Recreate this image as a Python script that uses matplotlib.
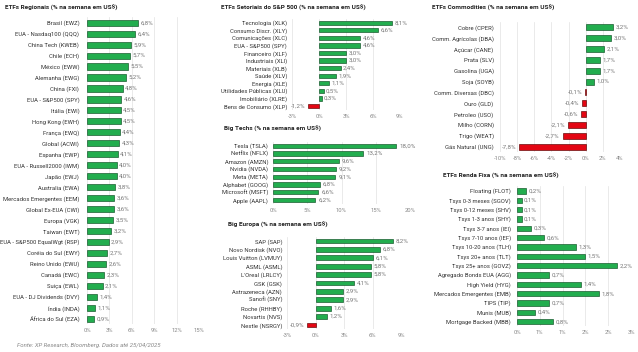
import matplotlib
matplotlib.use("Agg")
import matplotlib.pyplot as plt

plt.rcParams['font.family'] = ['Roboto', 'DejaVu Sans']

W, H = 638, 352

reg_labels = ["Brasil (EWZ)", "EUA - Nasdaq100 (QQQ)", "China Tech (KWEB)", "Chile (ECH)",
              "México (EWW)", "Alemanha (EWG)", "China (FXI)", "EUA - S&P500 (SPY)",
              "Itália (EWI)", "Hong Kong (EWH)", "França (EWQ)", "Global (ACWI)",
              "Espanha (EWP)", "EUA - Russell2000 (IWM)", "Japão (EWJ)", "Australia (EWA)",
              "Mercados Emergentes (EEM)", "Global Ex-EUA (CWI)", "Europa (VGK)", "Taiwan (EWT)",
              "EUA - S&P500 EqualWgt (RSP)", "Coréia do Sul (EWY)", "Reino Unido (EWU)",
              "Canadá (EWC)", "Suiça (EWL)", "EUA - DJ Dividends (DVY)", "Índia (INDA)",
              "África do Sul (EZA)"]
reg_vals = [6.8, 6.4, 5.9, 5.7, 5.5, 5.2, 4.8, 4.6, 4.5, 4.5, 4.4, 4.3, 4.1, 4.0, 4.0, 3.8,
            3.6, 3.6, 3.5, 3.2, 2.9, 2.7, 2.6, 2.3, 2.1, 1.4, 1.1, 0.9]

set_labels = ["Tecnologia (XLK)", "Consumo Discr. (XLY)", "Comunicações (XLC)",
              "EUA - S&P500 (SPY)", "Financeiro (XLF)", "Industriais (XLI)", "Materiais (XLB)",
              "Saúde (XLV)", "Energia (XLE)", "Utilidades Públicas (XLU)", "Imobiliário (XLRE)",
              "Bens de Consumo (XLP)"]
set_vals = [8.1, 6.6, 4.6, 4.6, 3.0, 3.0, 2.4, 1.9, 1.1, 0.5, 0.3, -1.2]

tech_labels = ["Tesla (TSLA)", "Netflix (NFLX)", "Amazon (AMZN)", "Nvidia (NVDA)",
               "Meta (META)", "Alphabet (GOOG)", "Microsoft (MSFT)", "Apple (AAPL)"]
tech_vals = [18.0, 13.2, 9.6, 9.2, 9.1, 6.8, 6.6, 6.2]

eur_labels = ["SAP (SAP)", "Novo Nordisk (NVO)", "Louis Vuitton (LVMUY)", "ASML (ASML)",
              "L'Oreal (LRLCY)", "GSK (GSK)", "Astrazeneca (AZN)", "Sanofi (SNY)",
              "Roche (RHHBY)", "Novartis (NVS)", "Nestle (NSRGY)"]
eur_vals = [8.2, 6.8, 6.1, 5.8, 5.8, 4.1, 2.9, 2.9, 1.6, 1.2, -0.9]

com_labels = ["Cobre (CPER)", "Comm. Agrícolas (DBA)", "Açúcar (CANE)", "Prata (SLV)",
              "Gasolina (UGA)", "Soja (SOYB)", "Comm. Diversas (DBC)", "Ouro (GLD)",
              "Petroleo (USO)", "Milho (CORN)", "Trigo (WEAT)", "Gás Natural (UNG)"]
com_vals = [3.2, 3.0, 2.1, 1.7, 1.7, 1.0, -0.1, -0.4, -0.6, -2.1, -2.7, -7.8]

rf_labels = ["Floating (FLOT)", "Tsys 0-3 meses (SGOV)", "Tsys 0-12 meses (SHV)",
             "Tsys 1-3 anos (SHY)", "Tsys 3-7 anos (IEI)", "Tsys 7-10 anos (IEF)",
             "Tsys 10-20 anos (TLH)", "Tsys 20+ anos (TLT)", "Tsys 25+ anos (GOVZ)",
             "Agregado Bonds EUA (AGG)", "High Yield (HYG)", "Mercados Emergentes (EMB)",
             "TIPS (TIP)", "Munis (MUB)", "Mortgage Backed (MBB)"]
rf_vals = [0.2, 0.1, 0.1, 0.1, 0.3, 0.6, 1.3, 1.5, 2.2, 0.7, 1.4, 1.8, 0.7, 0.4, 0.8]

GREEN = "#22ad4e"
GREEN_E = "#0d4f24"
RED = "#e30613"
RED_E = "#5a0000"

fig = plt.figure(figsize=(W / 100, H / 100), dpi=100)


def fmt(v):
    return ("%.1f%%" % v).replace(".", ",")


def panel(title, tx, ty, labels, vals, x0, x1, top, bottom, xlim, ticks, ticklabels, pad):
    ax = fig.add_axes([x0 / W, 1 - bottom / H, (x1 - x0) / W, (bottom - top) / H])
    n = len(vals)
    y = list(range(n))
    cols = [GREEN if v >= 0 else RED for v in vals]
    ecols = [GREEN_E if v >= 0 else RED_E for v in vals]
    ax.barh(y, vals, height=0.56, color=cols, edgecolor=ecols, linewidth=0.45, zorder=3)
    ax.set_ylim(n - 0.5, -0.5)
    ax.set_xlim(*xlim)
    ax.set_yticks(y)
    ax.set_yticklabels(labels, fontsize=4.2, color="#333333")
    ax.set_xticks(ticks)
    ax.set_xticklabels(ticklabels, fontsize=4.2, color="#888888")
    ax.tick_params(axis="y", length=0, pad=pad)
    ax.tick_params(axis="x", length=0, pad=3)
    for s in ax.spines.values():
        s.set_visible(False)
    ax.grid(axis="x", color="#e2e2e2", linewidth=0.5, zorder=0)
    span = xlim[1] - xlim[0]
    for yi, v in zip(y, vals):
        if v >= 0:
            ax.text(v + span * 0.022, yi, fmt(v), va="center", ha="left", fontsize=4.4, color="#777777")
        else:
            ax.text(v - span * 0.022, yi, fmt(v), va="center", ha="right", fontsize=4.4, color="#777777")
    fig.text(tx / W, 1 - ty / H, title, fontsize=4.6, fontweight="bold", color="#222222",
             ha="left", va="center")
    return ax


panel("ETFs Regionais (% na semana em US$)", 5, 7.5, reg_labels, reg_vals,
      87, 199, 17.2, 324.2, (0, 15), [0, 3, 6, 9, 12, 15],
      ["0%", "3%", "6%", "9%", "12%", "15%"], 5.5)

panel("ETFs Setoriais do S&P 500 (% na semana em US$)", 221, 7.5, set_labels, set_vals,
      292, 400, 18.9, 109.8, (-3, 9), [-3, 0, 3, 6, 9],
      ["-3%", "0%", "3%", "6%", "9%"], 3.5)

panel("Big Techs (% na semana em US$)", 224, 129, tech_labels, tech_vals,
      273, 410, 141.8, 203.9, (0, 20), [0, 5, 10, 15, 20],
      ["0%", "5%", "10%", "15%", "20%"], 3.5)

panel("Big Europa (% na semana em US$)", 228, 225, eur_labels, eur_vals,
      287, 401, 236.8, 329.2, (-3, 9), [-3, 0, 3, 6, 9],
      ["-3%", "0%", "3%", "6%", "9%"], 3.5)

panel("ETFs Commodities (% na semana em US$)", 432, 7.5, com_labels, com_vals,
      500, 620, 21.9, 152.1, (-10, 4), [-10, -8, -6, -4, -2, 0, 2, 4],
      ["-10%", "-8%", "-6%", "-4%", "-2%", "0%", "2%", "4%"], 4.5)

panel("ETFs Renda Fixa (% na semana em US$)", 443, 176, rf_labels, rf_vals,
      517, 631, 186.3, 326.3, (0, 2.5), [0, 0.5, 1.0, 1.5, 2.0, 2.5],
      ["0%", "1%", "1%", "2%", "2%", "3%"], 4.5)

fig.text(17 / W, 1 - 346 / H, "Fonte: XP Research, Bloomberg. Dados até 25/04/2025",
         fontsize=4.3, style="italic", color="#888888", ha="left", va="center")

fig.savefig("out.png", dpi=100)
